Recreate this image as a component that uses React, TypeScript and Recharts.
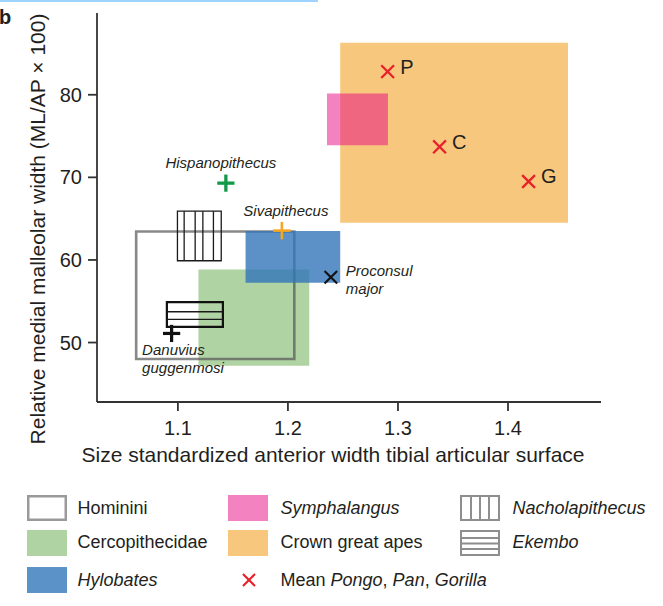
import { ReferenceArea, ReferenceLine, Scatter, ScatterChart, XAxis, YAxis, Label } from "recharts";

const FONT = '"Liberation Sans", Arial, Helvetica, sans-serif';
const INK = "#231f20";

// axes
const xTicks = [1.1, 1.2, 1.3, 1.4];
const yTicks = [50, 60, 70, 80];
const xDomain = [1.0265, 1.4845];
const yDomain = [42.8, 89.9];

// range boxes, drawn in this order
const rangeBoxes = [
  { name: "Crown great apes", x1: 1.2475, x2: 1.4545, y1: 64.5, y2: 86.3 },
  { name: "Symphalangus", x1: 1.2355, x2: 1.2909, y1: 73.9, y2: 80.15 },
  { name: "Cercopithecidae", x1: 1.1187, x2: 1.2194, y1: 47.2, y2: 58.85 },
  { name: "Hominini", x1: 1.0621, x2: 1.2058, y1: 48.0, y2: 63.45 },
  { name: "Hylobates", x1: 1.1615, x2: 1.2475, y1: 57.25, y2: 63.5 },
];

// hatched fossil boxes
const nacholapithecus = { x1: 1.0996, x2: 1.1394, y1: 59.9, y2: 65.9 };
const nacholapithecusHatchX = [1.1057, 1.1157, 1.1227, 1.1323];
const ekembo = { x1: 1.09, x2: 1.1409, y1: 51.9, y2: 54.9 };
const ekemboHatchY = [53.73, 52.81];

// means Pongo, Pan, Gorilla
const apeMeans = [
  { label: "P", x: 1.2906, y: 82.8 },
  { label: "C", x: 1.3378, y: 73.7 },
  { label: "G", x: 1.4187, y: 69.5 },
];

const fossils = [
  { name: "Hispanopithecus", x: 1.1436, y: 69.3 },
  { name: "Sivapithecus", x: 1.1945, y: 63.55 },
  { name: "Proconsul major", x: 1.239, y: 57.9 },
  { name: "Danuvius guggenmosi", x: 1.0943, y: 51.1 },
];

const boxStyle: Record<string, any> = {
  "Crown great apes": { fill: "#f8c77e", fillOpacity: 1 },
  Symphalangus: { fill: "#e50581", fillOpacity: 0.5 },
  Cercopithecidae: { fill: "#b0d3a3", fillOpacity: 1 },
  Hominini: { fill: "none", stroke: "#555", strokeOpacity: 0.7, strokeWidth: 2.6 },
  Hylobates: { fill: "#3276b9", fillOpacity: 0.8 },
};

const fossilStyle: Record<string, any> = {
  Hispanopithecus: { mark: "plus", color: "#129a48", r: 8.6, sw: 3.3, lines: ["Hispanopithecus"], anchor: "middle", dx: -5, dy: -15, gap: 0 },
  Sivapithecus: { mark: "plus", color: "#f5a623", r: 8.7, sw: 2.6, lines: ["Sivapithecus"], anchor: "middle", dx: 4, dy: -15, gap: 0 },
  "Proconsul major": { mark: "x", color: "#111", r: 6.3, sw: 2.1, lines: ["Proconsul", "major"], anchor: "start", dx: 15, dy: -1.5, gap: 18 },
  "Danuvius guggenmosi": { mark: "plus", color: "#111", r: 8.6, sw: 3.2, lines: ["Danuvius", "guggenmosi"], anchor: "start", dx: -29.5, dy: 22, gap: 17.5 },
};

function Mark({ cx, cy, kind, r, color, sw }: any) {
  if (kind === "plus") {
    return (
      <g stroke={color} strokeWidth={sw}>
        <line x1={cx - r} y1={cy} x2={cx + r} y2={cy} />
        <line x1={cx} y1={cy - r} x2={cx} y2={cy + r} />
      </g>
    );
  }
  return (
    <g stroke={color} strokeWidth={sw}>
      <line x1={cx - r} y1={cy - r} x2={cx + r} y2={cy + r} />
      <line x1={cx - r} y1={cy + r} x2={cx + r} y2={cy - r} />
    </g>
  );
}

const renderMean = (p: any) => (
  <g>
    <Mark cx={p.cx} cy={p.cy} kind="x" r={6.4} color="#e8202a" sw={2.3} />
    <text x={p.cx + 12.5} y={p.cy + 2} fontSize={20} fontFamily={FONT} fill={INK}>
      {p.payload.label}
    </text>
  </g>
);

const renderFossil = (p: any) => {
  const s = fossilStyle[p.payload.name];
  return (
    <g>
      <Mark cx={p.cx} cy={p.cy} kind={s.mark} r={s.r} color={s.color} sw={s.sw} />
      <text fontSize={15} fontStyle="italic" fontFamily={FONT} fill={INK} textAnchor={s.anchor}>
        {s.lines.map((l: string, i: number) => (
          <tspan key={l} x={p.cx + s.dx} y={p.cy + s.dy + i * s.gap}>
            {l}
          </tspan>
        ))}
      </text>
    </g>
  );
};

const XTitle = ({ viewBox }: any) => (
  <text x={viewBox.x + viewBox.width / 2 - 16} y={viewBox.y + viewBox.height} textAnchor="middle" fontSize={21} fontFamily={FONT} fill={INK}>
    Size standardized anterior width tibial articular surface
  </text>
);

const YTitle = ({ viewBox }: any) => {
  const cx = viewBox.x + 45;
  const cy = viewBox.y + viewBox.height / 2 + 21.5;
  return (
    <text x={cx} y={cy} transform={`rotate(-90 ${cx} ${cy})`} textAnchor="middle" fontSize={21} fontFamily={FONT} fill={INK}>
      Relative medial malleolar width (ML/AP × 100)
    </text>
  );
};

// legend
const legendCols = [26.5, 227.5, 459.5];
const legendRows = [495, 529.5, 567];
const legendItems = [
  { key: "hominini", col: 0, row: 0, parts: [["Hominini", false]] },
  { key: "cerco", col: 0, row: 1, parts: [["Cercopithecidae", false]] },
  { key: "hylo", col: 0, row: 2, parts: [["Hylobates", true]] },
  { key: "sympha", col: 1, row: 0, parts: [["Symphalangus", true]] },
  { key: "crown", col: 1, row: 1, parts: [["Crown great apes", false]] },
  { key: "mean", col: 1, row: 2, parts: [["Mean ", false], ["Pongo", true], [", ", false], ["Pan", true], [", ", false], ["Gorilla", true]] },
  { key: "nacho", col: 2, row: 0, parts: [["Nacholapithecus", true]] },
  { key: "ekembo", col: 2, row: 1, parts: [["Ekembo", true]] },
];

function Swatch({ kind }: { kind: string }) {
  const w = 40;
  const h = 26;
  const g = "#8e8e8e";
  let body: any = null;
  if (kind === "hominini") body = <rect x={1.25} y={1.25} width={w - 2.5} height={h - 2.5} fill="#fff" stroke="#9a9a9a" strokeWidth={2.5} />;
  if (kind === "cerco") body = <rect width={w} height={h} fill="#b0d3a3" />;
  if (kind === "hylo") body = <rect width={w} height={h} fill="#5b93c8" />;
  if (kind === "sympha") body = <rect width={w} height={h} fill="#f282c0" />;
  if (kind === "crown") body = <rect width={w} height={h} fill="#f8c77e" />;
  if (kind === "mean") body = <Mark cx={21} cy={13} kind="x" r={6} color="#e8202a" sw={2.2} />;
  if (kind === "nacho")
    body = (
      <g stroke={g} strokeWidth={2} fill="none">
        <rect x={1} y={1} width={w - 2} height={h - 2} />
        {[11, 20, 29].map((v) => (
          <line key={v} x1={v} y1={1} x2={v} y2={h - 1} />
        ))}
      </g>
    );
  if (kind === "ekembo")
    body = (
      <g stroke={g} strokeWidth={2} fill="none">
        <rect x={1} y={1} width={w - 2} height={h - 2} />
        {[8, 13.5, 19].map((v) => (
          <line key={v} x1={1} y1={v} x2={w - 1} y2={v} />
        ))}
      </g>
    );
  return (
    <svg width={w} height={h} style={{ display: "block" }}>
      {body}
    </svg>
  );
}

export default function App() {
  const xAxisLabelGap = [0, 0, 0];
  return (
    <div style={{ position: "absolute", left: 0, top: 0, width: 663, height: 606, background: "#fff", fontFamily: FONT, color: INK }}>
      <div style={{ position: "absolute", left: 0, top: 0, width: 318, height: 2, background: "#9fd3ff" }} />
      <div style={{ position: "absolute", left: -1, top: 5, fontSize: 20, fontWeight: 700, lineHeight: "24px" }}>b</div>
      <div style={{ position: "absolute", left: 0, top: 0 }}>
        <ScatterChart width={663} height={470} margin={{ top: 13, right: 62, bottom: 8, left: 0 }}>
          <XAxis
            type="number"
            dataKey="x"
            domain={xDomain}
            ticks={xTicks}
            allowDataOverflow
            tickFormatter={(v: number) => v.toFixed(1)}
            height={60}
            tickSize={9}
            tickMargin={10}
            stroke="#333"
            strokeWidth={1.8}
            tick={{ fill: INK, fontSize: 20, fontFamily: FONT }}
          >
            <Label content={XTitle} />
          </XAxis>
          <YAxis
            type="number"
            dataKey="y"
            domain={yDomain}
            ticks={yTicks}
            allowDataOverflow
            width={97}
            tickSize={9}
            tickMargin={6}
            stroke="#333"
            strokeWidth={1.8}
            tick={{ fill: INK, fontSize: 20, fontFamily: FONT }}
          >
            <Label content={YTitle} />
          </YAxis>
          {rangeBoxes.map((b) => (
            <ReferenceArea key={b.name} x1={b.x1} x2={b.x2} y1={b.y1} y2={b.y2} stroke="none" {...boxStyle[b.name]} />
          ))}
          <ReferenceArea {...nacholapithecus} fill="none" fillOpacity={0} stroke="#1a1a1a" strokeWidth={1.3} />
          {nacholapithecusHatchX.map((v) => (
            <ReferenceLine
              key={`n${v}`}
              segment={[
                { x: v, y: nacholapithecus.y1 },
                { x: v, y: nacholapithecus.y2 },
              ]}
              stroke="#1a1a1a"
              strokeWidth={1.3}
            />
          ))}
          <ReferenceArea {...ekembo} fill="none" fillOpacity={0} stroke="#111" strokeWidth={2.2} />
          {ekemboHatchY.map((v) => (
            <ReferenceLine
              key={`e${v}`}
              segment={[
                { x: ekembo.x1, y: v },
                { x: ekembo.x2, y: v },
              ]}
              stroke="#1a1a1a"
              strokeWidth={1.3}
            />
          ))}
          <Scatter data={apeMeans} shape={renderMean} isAnimationActive={false} />
          {fossils.map((f) => (
            <Scatter key={f.name} data={[f]} shape={renderFossil} isAnimationActive={false} />
          ))}
        </ScatterChart>
      </div>
      {legendItems.map((it) => (
        <div
          key={it.key}
          style={{ position: "absolute", left: legendCols[it.col], top: legendRows[it.row] + xAxisLabelGap[it.col], display: "flex", alignItems: "center", height: 26 }}
        >
          <Swatch kind={it.key} />
          <span style={{ marginLeft: it.col === 2 ? 13 : it.col === 1 ? 13 : 11, fontSize: 18, whiteSpace: "nowrap" }}>
            {it.parts.map(([t, ital], i) => (
              <span key={i} style={{ fontStyle: ital ? "italic" : "normal" }}>
                {t as string}
              </span>
            ))}
          </span>
        </div>
      ))}
    </div>
  );
}
